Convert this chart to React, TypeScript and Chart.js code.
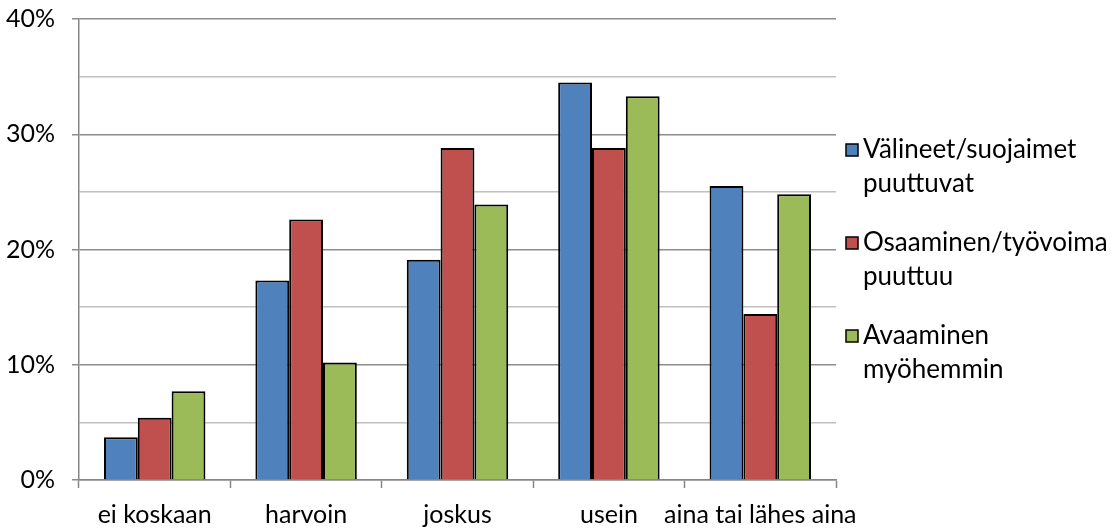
import React, { useEffect, useRef } from "react";
import { Chart, registerables } from "chart.js";

Chart.register(...registerables);

const categories = ["ei koskaan", "harvoin", "joskus", "usein", "aina tai lähes aina"];
const seriesLabels = [
  ["Välineet/suojaimet", "puuttuvat"],
  ["Osaaminen/työvoima", "puuttuu"],
  ["Avaaminen", "myöhemmin"],
];
const valineet = [3.7, 17.3, 19.1, 34.5, 25.5];
const osaaminen = [5.4, 22.6, 28.8, 28.8, 14.4];
const avaaminen = [7.7, 10.2, 23.9, 33.3, 24.8];
const seriesColors = ["#4F81BD", "#C0504D", "#9BBB59"];

const FONT = "Lato";
const FONT_SIZE = 25;

const legendPlugin = {
  id: "sideLegend",
  afterDraw(chart: any) {
    const ctx = chart.ctx;
    const area = chart.chartArea;
    const x0 = area.right + 10;
    ctx.save();
    ctx.font = `${FONT_SIZE + 1}px ${FONT}`;
    ctx.textBaseline = "middle";
    ctx.textAlign = "left";
    chart.data.datasets.forEach((ds: any, i: number) => {
      const lines: string[] = ds.legendLines;
      const cy = area.top + 131 + i * 93;
      ctx.fillStyle = ds.backgroundColor;
      ctx.fillRect(x0, cy - 6, 12, 12);
      ctx.strokeStyle = "#000";
      ctx.lineWidth = 1.5;
      ctx.strokeRect(x0, cy - 6, 12, 12);
      ctx.fillStyle = "#000";
      lines.forEach((ln, j) => {
        ctx.fillText(ln, x0 + 17, cy + j * 34);
      });
    });
    ctx.restore();
  },
};

export default function App() {
  const ref = useRef<HTMLCanvasElement | null>(null);
  useEffect(() => {
    document.body.style.margin = "0";
    const canvas = ref.current!;
    const seriesData = [valineet, osaaminen, avaaminen];
    const chart = new Chart(canvas, {
      type: "bar",
      data: {
        labels: categories,
        datasets: seriesData.map((d, i) => ({
          label: seriesLabels[i].join(" "),
          legendLines: seriesLabels[i],
          data: d,
          backgroundColor: seriesColors[i],
          borderColor: "#000",
          borderWidth: 2,
          categoryPercentage: 0.67,
          barPercentage: 1.0,
        })) as any,
      },
      options: {
        responsive: false,
        animation: false,
        layout: { padding: { top: 19, right: 279, left: 0, bottom: 0 } },
        plugins: {
          legend: { display: false },
          tooltip: { enabled: false },
        },
        scales: {
          x: {
            grid: {
              offset: true,
              drawOnChartArea: false,
              drawTicks: true,
              tickLength: 8,
              tickColor: "#868686",
              tickWidth: 1.5,
            },
            border: { color: "#868686", width: 1.5 },
            ticks: {
              color: "#000",
              font: { family: FONT, size: FONT_SIZE },
              padding: 12,
              maxRotation: 0,
              autoSkip: false,
            },
            afterFit: (s: any) => {
              s.height = 48;
              s.paddingLeft = 0;
              s.paddingRight = 0;
            },
          },
          y: {
            min: 0,
            max: 40,
            grid: {
              color: (c: any) => (c.tick && c.tick.value % 10 === 0 ? "#8C8C8C" : "#C0C0C0"),
              tickColor: (c: any) => (c.tick && c.tick.value % 10 === 0 ? "#8C8C8C" : "rgba(0,0,0,0)"),
              lineWidth: 1.5,
              tickLength: 7,
            },
            border: { color: "#868686", width: 1.5 },
            ticks: {
              stepSize: 5,
              color: "#000",
              font: { family: FONT, size: FONT_SIZE },
              padding: 17,
              callback: (v: any) => (Number(v) % 10 === 0 ? v + "%" : ""),
            },
            afterFit: (s: any) => {
              s.width = 79;
              s.paddingTop = 0;
              s.paddingBottom = 0;
            },
          },
        },
      } as any,
      plugins: [legendPlugin],
    });
    return () => chart.destroy();
  }, []);
  return (
    <div style={{ position: "absolute", left: 0, top: 0, width: 1115, height: 528, background: "#fff" }}>
      <canvas ref={ref} width={1115} height={528} style={{ display: "block" }} />
    </div>
  );
}
